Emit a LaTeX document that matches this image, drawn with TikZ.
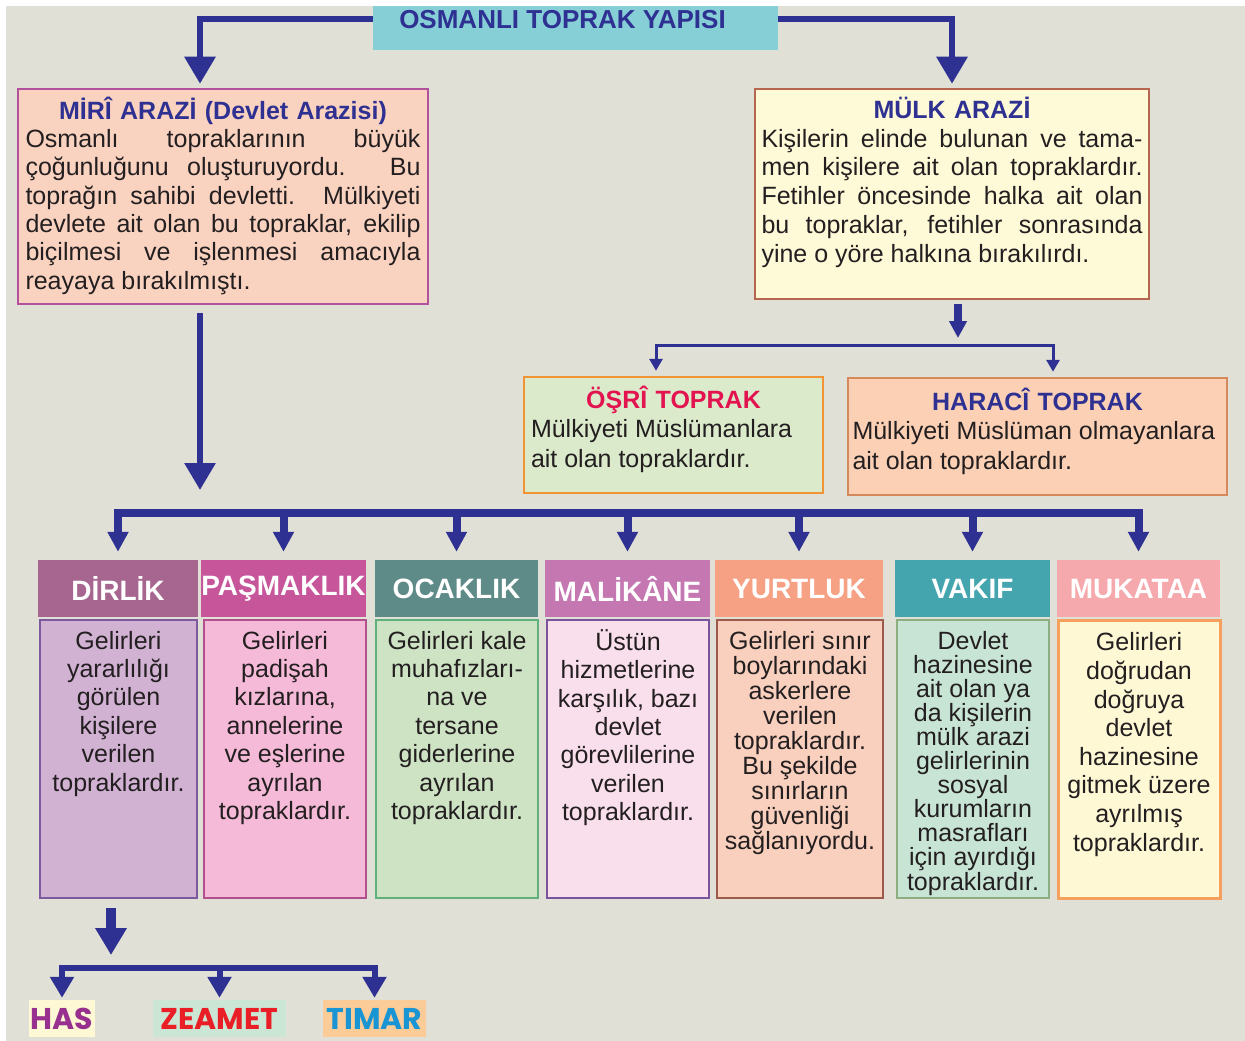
\documentclass[tikz,border=0pt]{standalone}
\usepackage{fontspec}
\setmainfont{Liberation Sans}
\newfontfamily\gotik{Poppins}
\usetikzlibrary{arrows.meta,positioning}

\definecolor{zemin}{HTML}{E0E0D6}
\definecolor{camgobegi}{HTML}{86CFD6}
\definecolor{lacivert}{HTML}{2E3192}
\definecolor{metin}{HTML}{231F20}
\definecolor{mirizemin}{HTML}{FAD2C0}
\definecolor{miricizgi}{HTML}{B4519C}
\definecolor{mulkzemin}{HTML}{FEF9D7}
\definecolor{mulkcizgi}{HTML}{B6654E}
\definecolor{osrizemin}{HTML}{DBEACB}
\definecolor{osricizgi}{HTML}{F19436}
\definecolor{osribaslik}{HTML}{E2134F}
\definecolor{haraczemin}{HTML}{FBD0B4}
\definecolor{haraccizgi}{HTML}{D5895C}
\definecolor{ustdirlik}{HTML}{A6668F}
\definecolor{ustpasmak}{HTML}{C6559A}
\definecolor{ustocak}{HTML}{5E8B87}
\definecolor{ustmalik}{HTML}{C477B0}
\definecolor{ustyurt}{HTML}{F6A184}
\definecolor{ustvakif}{HTML}{45A5AE}
\definecolor{ustmukataa}{HTML}{F6A9AD}
\definecolor{dirlikzemin}{HTML}{D1B2D3}
\definecolor{dirlikcizgi}{HTML}{7C5A9D}
\definecolor{pasmakzemin}{HTML}{F5BAD7}
\definecolor{pasmakcizgi}{HTML}{B2508E}
\definecolor{ocakzemin}{HTML}{CEE3C4}
\definecolor{ocakcizgi}{HTML}{5FB07A}
\definecolor{malikzemin}{HTML}{F9DEEB}
\definecolor{malikcizgi}{HTML}{7A559D}
\definecolor{yurtzemin}{HTML}{F9CFBD}
\definecolor{yurtcizgi}{HTML}{9C5A4B}
\definecolor{vakifzemin}{HTML}{C8E4D5}
\definecolor{vakifcizgi}{HTML}{8DAE80}
\definecolor{mukataazemin}{HTML}{FEF8D4}
\definecolor{mukataacizgi}{HTML}{F5A05C}
\definecolor{haszemin}{HTML}{FEF8D4}
\definecolor{hasyazi}{HTML}{97308F}
\definecolor{zeametzemin}{HTML}{CBE6D4}
\definecolor{zeametyazi}{HTML}{E91E26}
\definecolor{timarzemin}{HTML}{FBCB98}
\definecolor{timaryazi}{HTML}{1A95D4}

\newcommand{\duzbosluk}{\spaceskip=0pt\relax\xspaceskip=0pt\relax}
\newcommand{\tam}[1]{\makebox[\hsize][s]{\duzbosluk #1}}
\newcommand{\orta}[1]{\makebox[\hsize][c]{#1}}

\begin{document}
\begin{tikzpicture}[x=1pt,y=-1pt,
	kutu/.style={draw, line width=2.5pt, inner sep=0pt},
	ustbaslik/.style={inner sep=0pt, text=white, minimum height=57pt, font=\fontsize{28}{30}\selectfont\bfseries},
	yazi/.style={align=center, inner sep=0pt, text=metin, font=\fontsize{25}{28.4}\selectfont},
	paragraf/.style={align=left, inner sep=0pt, text=metin},
	alt/.style={inner sep=0pt, minimum height=37pt, font=\gotik\fontsize{30}{32}\selectfont\bfseries},
	kalinok/.style={draw=lacivert, line width=6pt, -{Triangle[width=30pt,length=27pt]}},
	kisaok/.style={draw=lacivert, line width=8pt, -{Triangle[width=17pt,length=17pt]}},
	inceok/.style={draw=lacivert, line width=3pt, {Triangle[width=13pt,length=12pt]}-{Triangle[width=13pt,length=12pt]}},
	dalok/.style={draw=lacivert, line width=8pt, -{Triangle[width=20pt,length=20pt]}},
	cocukok/.style={draw=lacivert, line width=6pt, -{Triangle[width=23pt,length=21pt]}}
	]
	\useasboundingbox (0,0) rectangle (1245,1041);
	\fill[zemin] (6,6) rectangle (1245,1041);

	% baslik
	\node[fill=camgobegi, minimum width=405pt, minimum height=61pt, inner sep=0pt, text=lacivert, font=\fontsize{26}{28}\selectfont\bfseries] (baslik) at (575.5,19.5) {OSMANLI TOPRAK YAPISI\hspace*{26pt}};
	\fill[white] (0,0) rectangle (1245,6);

	% miri ve mulk
	\node[kutu, draw=miricizgi, fill=mirizemin, minimum width=410pt, minimum height=215pt] (miri) at (223,196.5) {};
	\node[paragraf, text width=395pt, font=\fontsize{25}{28.3}\selectfont, below=9pt of miri.north] (miriyazi) {%
		\orta{\color{lacivert}\bfseries MİRÎ ARAZİ (Devlet Arazisi)}\\
		\tam{Osmanlı topraklarının büyük}\\
		\tam{çoğunluğunu oluşturuyordu. Bu}\\
		\tam{toprağın sahibi devletti. Mülkiyeti}\\
		\tam{devlete ait olan bu topraklar, ekilip}\\
		\tam{biçilmesi ve işlenmesi amacıyla}\\
		\duzbosluk reayaya bırakılmıştı.};
	\node[kutu, draw=mulkcizgi, fill=mulkzemin, minimum width=394pt, minimum height=210pt] (mulk) at (952,194) {};
	\node[paragraf, text width=381pt, font=\fontsize{25}{28.8}\selectfont, below=9pt of mulk.north] (mulkyazi) {%
		\orta{\color{lacivert}\bfseries MÜLK ARAZİ}\\
		\tam{Kişilerin elinde bulunan ve tama-}\\
		\tam{men kişilere ait olan topraklardır.}\\
		\tam{Fetihler öncesinde halka ait olan}\\
		\tam{bu topraklar, fetihler sonrasında}\\
		\duzbosluk yine o yöre halkına bırakılırdı.};
	\draw[kalinok, shorten >=4pt] (baslik.west) -| ([xshift=-23pt]miri.north);
	\draw[kalinok, shorten >=4pt] (baslik.east) -| (mulk.north);

	% osri ve haraci
	\node[kutu, draw=osricizgi, fill=osrizemin, minimum width=299pt, minimum height=116pt] (osri) at (673.5,435) {};
	\node[paragraf, text width=285pt, font=\fontsize{25}{29.5}\selectfont, below=10pt of osri.north] (osriyazi) {%
		\orta{\color{osribaslik}\bfseries ÖŞRÎ TOPRAK}\\
		\duzbosluk Mülkiyeti Müslümanlara\\
		\duzbosluk ait olan topraklardır.};
	\node[kutu, draw=haraccizgi, fill=haraczemin, minimum width=379pt, minimum height=117pt] (harac) at (1037.5,436.5) {};
	\node[paragraf, text width=370pt, font=\fontsize{25}{29.5}\selectfont, below=11pt of harac.north] (haracyazi) {%
		\orta{\color{lacivert}\bfseries HARACÎ TOPRAK}\\
		\duzbosluk Mülkiyeti Müslüman olmayanlara\\
		\duzbosluk ait olan topraklardır.};
	\coordinate (ayrim) at (958,345);
	\draw[kisaok, shorten <=4pt, shorten >=7pt] ([xshift=6pt]mulk.south) -- (ayrim);
	\draw[inceok, shorten <=5pt, shorten >=5pt] ([xshift=-17.5pt]osri.north) |- (ayrim) -| ([xshift=15.5pt]harac.north);

	% topraklar
	\foreach \ad/\x/\g/\etiket in {dirlik/118/160/DİRLİK, pasmak/283.5/165/PAŞMAKLIK, ocak/456.5/163/OCAKLIK, malik/627.5/165/MALİKÂNE, yurt/799/168/YURTLUK, vakif/972.5/155/VAKIF, mukataa/1138.5/163/MUKATAA}
		\node[ustbaslik, fill=ust\ad, minimum width=\g pt] (\ad) at (\x,588.5) {\etiket};

	\node[kutu, draw=dirlikcizgi, fill=dirlikzemin, minimum width=157pt, minimum height=278pt] (dirlikkutu) at (118.5,759) {};
	\node[yazi, below=12pt of dirlikkutu.north] (dirlikyazi) {Gelirleri\\yararlılığı\\görülen\\kişilere\\verilen\\topraklardır.};
	\node[kutu, draw=pasmakcizgi, fill=pasmakzemin, minimum width=162pt, minimum height=278pt] (pasmakkutu) at (285,759) {};
	\node[yazi, below=12pt of pasmakkutu.north] (pasmakyazi) {Gelirleri\\padişah\\kızlarına,\\annelerine\\ve eşlerine\\ayrılan\\topraklardır.};
	\node[kutu, draw=ocakcizgi, fill=ocakzemin, minimum width=162pt, minimum height=278pt] (ocakkutu) at (457,759) {};
	\node[yazi, below=12pt of ocakkutu.north] (ocakyazi) {\duzbosluk Gelirleri kale\\muhafızları-\\\duzbosluk na ve\\tersane\\giderlerine\\ayrılan\\topraklardır.};
	\node[kutu, draw=malikcizgi, fill=malikzemin, minimum width=162pt, minimum height=278pt] (malikkutu) at (628,759) {};
	\node[yazi, below=10.5pt of malikkutu.north] (malikyazi) {Üstün\\hizmetlerine\\\duzbosluk karşılık, bazı\\devlet\\görevlilerine\\verilen\\topraklardır.};
	\node[kutu, draw=yurtcizgi, fill=yurtzemin, minimum width=166pt, minimum height=278pt] (yurtkutu) at (800,759) {};
	\node[yazi, font=\fontsize{25}{25.1}\selectfont, below=12pt of yurtkutu.north] (yurtyazi) {\duzbosluk Gelirleri sınır\\boylarındaki\\askerlere\\verilen\\topraklardır.\\\duzbosluk Bu şekilde\\sınırların\\güvenliği\\sağlanıyordu.};
	\node[kutu, draw=vakifcizgi, fill=vakifzemin, minimum width=152pt, minimum height=278pt] (vakifkutu) at (973,759) {};
	\node[yazi, font=\fontsize{25}{24.1}\selectfont, below=12pt of vakifkutu.north] (vakifyazi) {Devlet\\hazinesine\\\duzbosluk ait olan ya\\\duzbosluk da kişilerin\\\duzbosluk mülk arazi\\gelirlerinin\\sosyal\\kurumların\\masrafları\\\duzbosluk için ayırdığı\\topraklardır.};
	\node[kutu, draw=mukataacizgi, fill=mukataazemin, line width=3pt, minimum width=162pt, minimum height=278pt] (mukataakutu) at (1139,759) {};
	\node[yazi, font=\fontsize{25}{28.6}\selectfont, below=14pt of mukataakutu.north] (mukataayazi) {Gelirleri\\doğrudan\\doğruya\\devlet\\hazinesine\\\duzbosluk gitmek üzere\\ayrılmış\\topraklardır.};

	\coordinate (dagit) at (200,513);
	\draw[kalinok, shorten <=8pt, shorten >=23pt] ([xshift=-23pt]miri.south) -- (dagit);
	\draw[lacivert, line width=8pt, line cap=rect] (dirlik.north |- dagit) -- (mukataa.north |- dagit);
	\foreach \ad in {dirlik,pasmak,ocak,malik,yurt,vakif,mukataa}
		\draw[dalok, shorten >=8pt] (\ad.north |- dagit) -- (\ad.north);

	% dirlik cesitleri
	\node[alt, fill=haszemin, text=hasyazi, minimum width=66pt] (has) at (62,1018.5) {HAS};
	\node[alt, fill=zeametzemin, text=zeametyazi, minimum width=133pt] (zeamet) at (219.5,1018.5) {ZEAMET};
	\node[alt, fill=timarzemin, text=timaryazi, minimum width=103pt] (timar) at (374.5,1018.5) {TIMAR};
	\coordinate (bol) at (111,968);
	\draw[kalinok, line width=10pt, shorten <=9pt, shorten >=13pt] ([xshift=-7.5pt]dirlikkutu.south) -- (bol);
	\draw[lacivert, line width=6pt, line cap=rect] (has.north |- bol) -- (timar.north |- bol);
	\foreach \ad in {has,zeamet,timar}
		\draw[cocukok, shorten >=2pt] (\ad.north |- bol) -- (\ad.north);
\end{tikzpicture}
\end{document}
